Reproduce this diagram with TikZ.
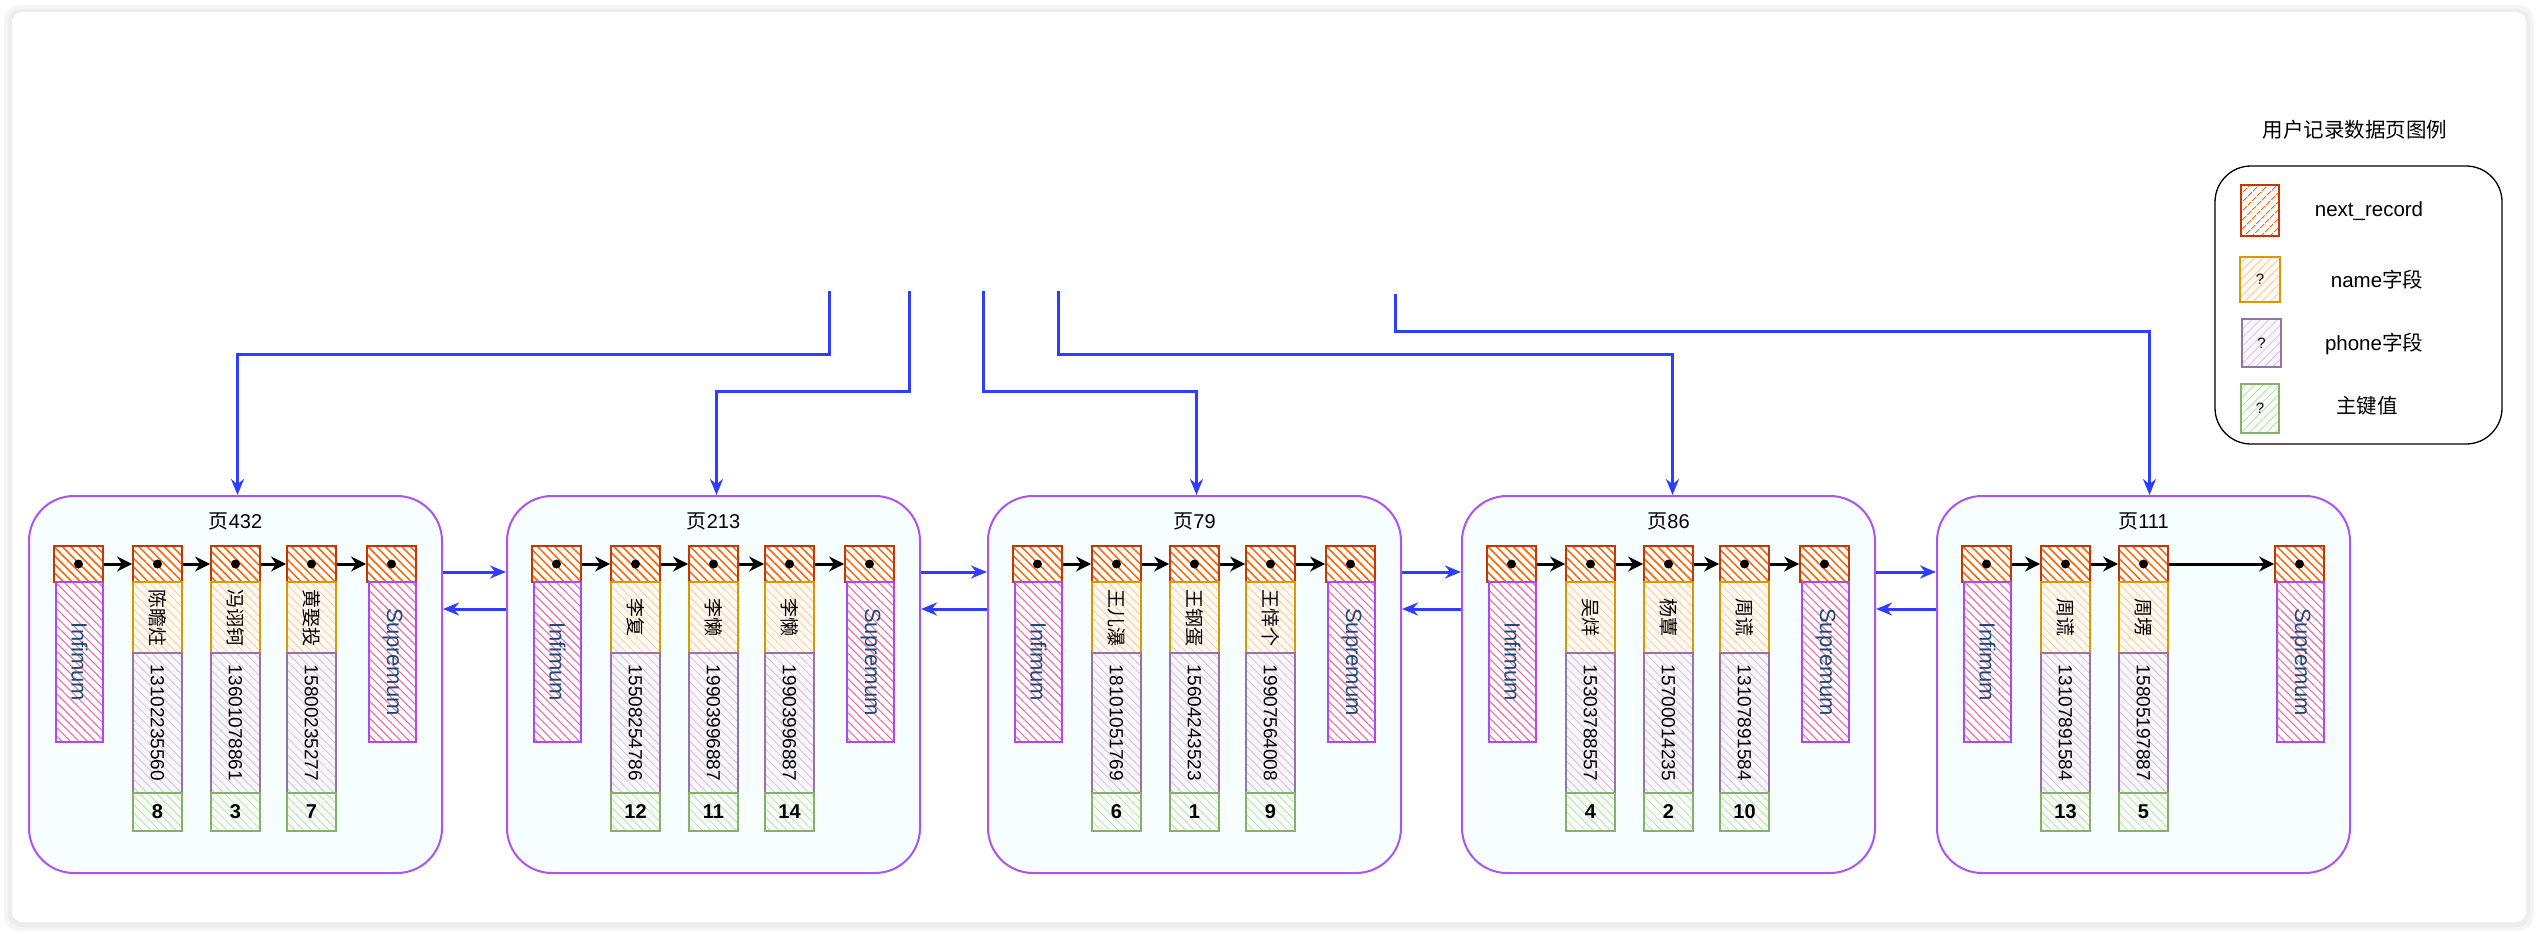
\documentclass[tikz,border=0pt]{standalone}
\usepackage{fontspec}
\usepackage{graphicx}
\setmainfont{Liberation Sans}
\newfontfamily\cjk{Noto Sans CJK SC}
\usetikzlibrary{arrows.meta,patterns.meta}
\definecolor{ptrdraw}{RGB}{199,53,0}
\definecolor{ptrhatch}{RGB}{250,100,0}
\definecolor{infdraw}{RGB}{176,70,245}
\definecolor{infhatch}{RGB}{236,110,165}
\definecolor{inftext}{RGB}{28,74,118}
\definecolor{namedraw}{RGB}{215,155,0}
\definecolor{namehatch}{RGB}{255,200,150}
\definecolor{namefill}{RGB}{255,250,244}
\definecolor{phonedraw}{RGB}{150,115,166}
\definecolor{phonehatch}{RGB}{210,190,225}
\definecolor{phonefill}{RGB}{250,247,252}
\definecolor{keydraw}{RGB}{130,179,102}
\definecolor{keyhatch}{RGB}{190,222,185}
\definecolor{keyfill}{RGB}{248,252,247}
\definecolor{pagedraw}{RGB}{170,85,240}
\definecolor{pagefill}{RGB}{247,254,255}
\definecolor{bluec}{RGB}{45,62,255}
\tikzset{
  ptrbox/.style={draw=ptrdraw, line width=1.8pt, preaction={fill=white},
    pattern={Lines[angle=-45,distance=6pt,line width=1.5pt]}, pattern color=ptrhatch,
    minimum width=49pt, minimum height=36pt, inner sep=0pt,
    path picture={\fill[black] (path picture bounding box.center) circle (4.5pt);}},
  infbox/.style={draw=infdraw, line width=1.6pt, preaction={fill=white},
    pattern={Lines[angle=-45,distance=6pt,line width=1.1pt]}, pattern color=infhatch,
    minimum width=47pt, minimum height=160pt, inner sep=0pt},
  namebox/.style={draw=namedraw, line width=1.5pt, preaction={fill=namefill},
    pattern={Lines[angle=-45,distance=6pt,line width=0.8pt]}, pattern color=namehatch,
    minimum width=49pt, minimum height=71pt, inner sep=0pt},
  phonebox/.style={draw=phonedraw, line width=1.5pt, preaction={fill=phonefill},
    pattern={Lines[angle=-45,distance=6pt,line width=0.8pt]}, pattern color=phonehatch,
    minimum width=49pt, minimum height=140pt, inner sep=0pt},
  keybox/.style={draw=keydraw, line width=1.5pt, preaction={fill=keyfill},
    pattern={Lines[angle=-45,distance=6pt,line width=0.8pt]}, pattern color=keyhatch,
    minimum width=49pt, minimum height=38pt, inner sep=0pt},
  pagebox/.style={draw=pagedraw, line width=2pt, fill=pagefill, rounded corners=45pt,
    minimum width=413pt, minimum height=377pt, inner sep=0pt},
  blk/.style={draw=black, line width=3pt, -{Stealth[length=15pt,width=15pt]}},
  blu/.style={draw=bluec, line width=3pt, -{Stealth[length=16pt,width=13pt]}},
  lgptr/.style={draw=ptrdraw, line width=1.6pt, preaction={fill=white},
    pattern={Lines[angle=45,distance=6.5pt,line width=1pt]}, pattern color=ptrhatch,
    inner sep=0pt},
  lgname/.style={draw=namedraw, line width=1.5pt, preaction={fill=namefill},
    pattern={Lines[angle=45,distance=6pt,line width=0.8pt]}, pattern color=namehatch,
    inner sep=0pt, font=\fontsize{15}{15}\selectfont},
  lgphone/.style={draw=phonedraw, line width=1.5pt, preaction={fill=phonefill},
    pattern={Lines[angle=45,distance=6pt,line width=0.8pt]}, pattern color=phonehatch,
    inner sep=0pt, font=\fontsize{15}{15}\selectfont},
  lgkey/.style={draw=keydraw, line width=1.5pt, preaction={fill=keyfill},
    pattern={Lines[angle=45,distance=6pt,line width=0.8pt]}, pattern color=keyhatch,
    inner sep=0pt, font=\fontsize{15}{15}\selectfont},
  lgtext/.style={font=\fontsize{20.5}{20.5}\selectfont, inner sep=0pt},
  pgtitle/.style={font=\fontsize{20}{20}\selectfont, inner sep=0pt}
}
% record column: #1 prefix, #2 center x, #3 name, #4 phone, #5 key
\newcommand\rec[5]{%
  \node[ptrbox] (#1p) at (#2,564) {};
  \node[namebox] (#1n) at (#2,617.5) {\rotatebox{-90}{\cjk\fontsize{19}{19}\selectfont #3}};
  \node[phonebox] (#1t) at (#2,723) {\rotatebox{-90}{\fontsize{19}{19}\selectfont #4}};
  \node[keybox] (#1k) at (#2,812) {\bfseries\fontsize{20}{20}\selectfont #5};
}
% boundary column: #1 prefix, #2 center x, #3 text
\newcommand\bnd[3]{%
  \node[ptrbox] (#1p) at (#2,564) {};
  \node[infbox] (#1b) at (#2+1,662) {\rotatebox{-90}{\fontsize{22}{22}\selectfont\color{inftext}#3}};
}
% page: #1 id, #2 left x, #3 title
\newcommand\pg[3]{%
  \node[pagebox] (#1) at (#2+206.5,684.5) {};
  \node[pgtitle] (#1t) at (#2+206.5,521) {#3};
}
\begin{document}
\begin{tikzpicture}[x=1pt,y=-1pt]
\useasboundingbox (0,0) rectangle (2538,934);
% outer frame with soft shadow
\fill[black!4, rounded corners=16pt] (4,5) rectangle (2534,931);
\fill[black!7, rounded corners=13pt] (8,9) rectangle (2530,927);
\fill[white, rounded corners=10pt] (12,12) rectangle (2526,922);

% pages
\pg{P1}{29}{{\cjk 页}432}
\pg{P2}{507}{{\cjk 页}213}
\pg{P3}{988}{{\cjk 页}79}
\pg{P4}{1462}{{\cjk 页}86}
\pg{P5}{1937}{{\cjk 页}111}

% page 432
\bnd{P1a}{29+49.5}{Infimum}
\rec{P1b}{29+128.5}{陈瞻炷}{13102235560}{8}
\rec{P1c}{29+206.5}{冯诩钶}{13601078861}{3}
\rec{P1d}{29+282.5}{黄娶投}{15800235277}{7}
\bnd{P1e}{29+362.5}{Supremum}
% page 213
\bnd{P2a}{507+49.5}{Infimum}
\rec{P2b}{507+128.5}{李复}{15508254786}{12}
\rec{P2c}{507+206.5}{李懒}{19903996887}{11}
\rec{P2d}{507+282.5}{李懒}{19903996887}{14}
\bnd{P2e}{507+362.5}{Supremum}
% page 79
\bnd{P3a}{988+49.5}{Infimum}
\rec{P3b}{988+128.5}{王儿瀑}{18101051769}{6}
\rec{P3c}{988+206.5}{王钢蛋}{15604243523}{1}
\rec{P3d}{988+282.5}{王悻个}{19907564008}{9}
\bnd{P3e}{988+362.5}{Supremum}
% page 86
\bnd{P4a}{1462+49.5}{Infimum}
\rec{P4b}{1462+128.5}{吴烊}{15303788557}{4}
\rec{P4c}{1462+206.5}{杨蕈}{15700014235}{2}
\rec{P4d}{1462+282.5}{周谎}{13107891584}{10}
\bnd{P4e}{1462+362.5}{Supremum}
% page 111
\bnd{P5a}{1937+49.5}{Infimum}
\rec{P5b}{1937+128.5}{周谎}{13107891584}{13}
\rec{P5c}{1937+206.5}{周塄}{15805197887}{5}
\bnd{P5e}{1937+362.5}{Supremum}

% next_record arrows
\foreach \p in {P1,P2,P3,P4}{
  \draw[blk] (\p ap.east) -- (\p bp.west);
  \draw[blk] (\p bp.east) -- (\p cp.west);
  \draw[blk] (\p cp.east) -- (\p dp.west);
  \draw[blk] (\p dp.east) -- (\p ep.west);
}
\draw[blk] (P5ap.east) -- (P5bp.west);
\draw[blk] (P5bp.east) -- (P5cp.west);
\draw[blk] (P5cp.east) -- (P5ep.west);

% page links
\foreach \a/\b in {P1/P2,P2/P3,P3/P4,P4/P5}{
  \draw[blu] ([yshift=-77pt]\a.north east) -- ([yshift=-77pt]\b.north west);
  \draw[blu] ([yshift=-114pt]\b.north west) -- ([yshift=-114pt]\a.north east);
}

% links from above
\coordinate (sA) at (829,291);
\coordinate (sB) at (909,291);
\coordinate (sC) at (983,291);
\coordinate (sD) at (1058,291);
\coordinate (sE) at (1395,294);
\draw[blu] (sA) -- (829,354) -| ([xshift=2pt]P1.north);
\draw[blu] (sB) -- (909,391) -| ([xshift=3pt]P2.north);
\draw[blu] (sC) -- (983,391) -| ([xshift=2pt]P3.north);
\draw[blu] (sD) -- (1058,354) -| ([xshift=4pt]P4.north);
\draw[blu] (sE) -- (1395,331) -| ([xshift=6pt]P5.north);

% legend
\node[font=\fontsize{20.5}{20.5}\selectfont, inner sep=0pt] (LT) at (2355,130) {\cjk 用户记录数据页图例};
\node[draw=black, line width=1.3pt, rounded corners=36pt, minimum width=287pt, minimum height=278pt, inner sep=0pt] (L) at (2358.5,305) {};
\node[lgptr, minimum width=38pt, minimum height=51pt] (L1) at (2260,210.5) {};
\node[lgname, minimum width=40pt, minimum height=45pt] (L2) at (2260,279.5) {?};
\node[lgphone, minimum width=39pt, minimum height=48pt] (L3) at (2261.5,343) {?};
\node[lgkey, minimum width=38pt, minimum height=49pt] (L4) at (2260,408.5) {?};
\node[lgtext] (L1t) at (2369,211) {next\_record};
\node[lgtext] (L2t) at (2377,280) {name{\cjk 字段}};
\node[lgtext] (L3t) at (2374,344) {phone{\cjk 字段}};
\node[lgtext] (L4t) at (2367,406) {\cjk 主键值};
\end{tikzpicture}
\end{document}
